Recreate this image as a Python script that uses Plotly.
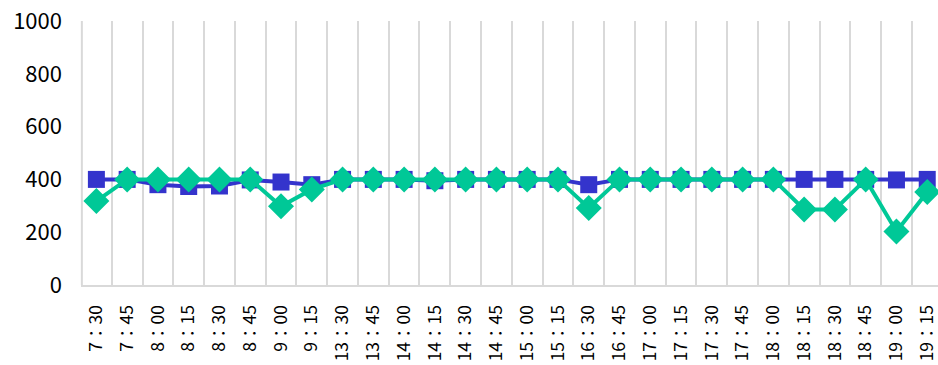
import plotly.graph_objects as go

# Time slots along the x axis
times = ["7：30", "7：45", "8：00", "8：15", "8：30", "8：45", "9：00", "9：15",
         "13：30", "13：45", "14：00", "14：15", "14：30", "14：45", "15：00", "15：15",
         "16：30", "16：45", "17：00", "17：15", "17：30", "17：45", "18：00", "18：15",
         "18：30", "18：45", "19：00", "19：15"]

# Series values
series_a = [400, 400, 380, 373, 375, 398, 390, 380,
            400, 400, 400, 395, 400, 400, 400, 400,
            380, 400, 400, 400, 400, 400, 400, 400,
            400, 400, 398, 400]
series_b = [318, 400, 400, 400, 400, 400, 298, 362,
            400, 400, 400, 400, 400, 400, 400, 400,
            292, 400, 400, 400, 400, 400, 400, 286,
            286, 400, 203, 352]

y_ticks = [0, 200, 400, 600, 800, 1000]

BLUE = "#3434CC"
GREEN = "#00C897"
GRID = "#D9D9D9"
FONT = "Noto Sans CJK JP"

fig = go.Figure()
fig.add_trace(go.Scatter(
    x=times, y=series_a, mode="lines+markers",
    line=dict(color=BLUE, width=4),
    marker=dict(symbol="square", size=17, color=BLUE),
    showlegend=False,
))
fig.add_trace(go.Scatter(
    x=times, y=series_b, mode="lines+markers",
    line=dict(color=GREEN, width=4),
    marker=dict(symbol="diamond", size=20, color=GREEN),
    showlegend=False,
))

# left boundary gridline at the edge of the plotting area
fig.add_shape(type="line", xref="paper", yref="paper", x0=0.001, x1=0.001, y0=0, y1=1,
              line=dict(color=GRID, width=2), layer="below")

fig.update_layout(
    width=938, height=365,
    margin=dict(l=81, r=0, t=21, b=80),
    paper_bgcolor="white", plot_bgcolor="white",
    font=dict(family=FONT, color="#000000"),
)
fig.update_xaxes(
    type="category", categoryorder="array", categoryarray=times,
    range=[-0.5, 27.35], automargin=False,
    tickson="boundaries", showgrid=True, gridcolor=GRID, gridwidth=2,
    showline=True, linecolor=GRID, linewidth=2,
    ticks="", tickangle=-90, ticklabelstandoff=11,
    tickfont=dict(family=FONT, size=17.5, color="#000000"),
    zeroline=False,
)
fig.update_yaxes(
    range=[0, 1000], tickvals=y_ticks, automargin=False,
    showgrid=False, zeroline=False, showline=False,
    ticks="", ticklabelstandoff=18,
    tickfont=dict(family=FONT, size=22, color="#000000"),
)

fig.write_html("out.html")
